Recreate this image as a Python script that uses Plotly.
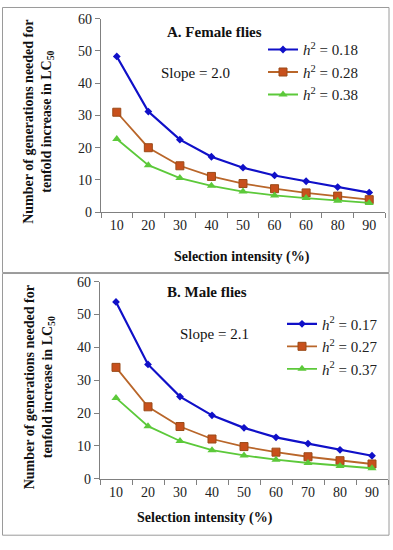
import plotly.graph_objects as go

# ---------------- data ----------------
positions = [1, 2, 3, 4, 5, 6, 7, 8, 9]
female_tick_labels = ["10", "20", "30", "40", "50", "60", "60", "80", "90"]
male_tick_labels = ["10", "20", "30", "40", "50", "60", "70", "80", "90"]

female_h018 = [48.3, 31.2, 22.5, 17.2, 13.8, 11.4, 9.6, 7.8, 6.1]
female_h028 = [31.0, 20.0, 14.4, 11.1, 8.9, 7.3, 6.0, 5.0, 3.9]
female_h038 = [22.7, 14.6, 10.6, 8.2, 6.4, 5.2, 4.4, 3.6, 2.9]

male_h017 = [53.8, 34.8, 25.0, 19.3, 15.5, 12.6, 10.7, 8.8, 7.0]
male_h027 = [33.9, 21.9, 15.9, 12.1, 9.8, 8.1, 6.7, 5.5, 4.5]
male_h037 = [24.6, 16.0, 11.5, 8.7, 7.1, 5.8, 4.8, 3.9, 3.2]

female_names = ["<i>h</i><sup>2</sup> = 0.18", "<i>h</i><sup>2</sup> = 0.28", "<i>h</i><sup>2</sup> = 0.38"]
male_names = ["<i>h</i><sup>2</sup> = 0.17", "<i>h</i><sup>2</sup> = 0.27", "<i>h</i><sup>2</sup> = 0.37"]

# ---------------- style ----------------
W, H = 393, 550
FONT = "Liberation Serif"
BLUE = "#1010C8"
ORANGE_LINE = "#B9662A"
ORANGE_MARK = "#C8501C"
GREEN = "#5CC93A"
AXIS = "#808080"


def px_x(p):
    return p / W


def px_y(p):
    return 1 - p / H


fig = go.Figure()

styles = [
    dict(line=dict(color=BLUE, width=2.2), marker=dict(symbol="diamond", size=6, color=BLUE)),
    dict(line=dict(color=ORANGE_LINE, width=1.8),
         marker=dict(symbol="square", size=8, color=ORANGE_MARK, line=dict(color="#9A4A18", width=1))),
    dict(line=dict(color=GREEN, width=1.8), marker=dict(symbol="triangle-up", size=8, color=GREEN)),
]

for vals, name, st in zip([female_h018, female_h028, female_h038], female_names, styles):
    fig.add_trace(go.Scatter(x=positions, y=vals, name=name, mode="lines+markers",
                             xaxis="x", yaxis="y", legend="legend", **st))
for vals, name, st in zip([male_h017, male_h027, male_h037], male_names, styles):
    fig.add_trace(go.Scatter(x=positions, y=vals, name=name, mode="lines+markers",
                             xaxis="x2", yaxis="y2", legend="legend2", **st))

boundaries = [p - 0.5 for p in positions] + [positions[-1] + 0.5]


def xaxis(domain, labels, anchor):
    return dict(domain=domain, anchor=anchor, range=[0.5, 9.5], tickvals=positions, ticktext=labels,
                ticks="", showline=True, linecolor=AXIS, linewidth=1.2, showgrid=False, zeroline=False,
                tickfont=dict(family=FONT, size=14, color="#222"),
                minor=dict(tickvals=boundaries, ticks="outside", ticklen=5, tickcolor=AXIS, showgrid=False))


def yaxis(domain, anchor):
    return dict(domain=domain, anchor=anchor, range=[0, 60], dtick=10, ticks="outside", ticklen=5,
                tickcolor=AXIS, showline=True, linecolor=AXIS, linewidth=1.2, showgrid=False,
                zeroline=False, tickfont=dict(family=FONT, size=14, color="#222"))


fig.update_layout(
    width=W, height=H, margin=dict(l=0, r=0, t=0, b=0),
    paper_bgcolor="white", plot_bgcolor="white",
    font=dict(family=FONT, size=14, color="#222"),
    xaxis=xaxis([px_x(101), px_x(385)], female_tick_labels, "y"),
    yaxis=yaxis([px_y(211), px_y(12)], "x"),
    xaxis2=xaxis([px_x(100), px_x(388)], male_tick_labels, "y2"),
    yaxis2=yaxis([px_y(485), px_y(282.3)], "x2"),
    legend=dict(x=px_x(263), y=px_y(27), xanchor="left", yanchor="top", bgcolor="rgba(0,0,0,0)",
                font=dict(family=FONT, size=15, color="#222")),
    legend2=dict(x=px_x(282), y=px_y(309), xanchor="left", yanchor="top", bgcolor="rgba(0,0,0,0)",
                 font=dict(family=FONT, size=15, color="#222")),
    showlegend=True,
)

# panel borders
fig.add_shape(type="rect", xref="paper", yref="paper", x0=px_x(2.5), x1=px_x(389), y0=px_y(273), y1=px_y(0.5),
              line=dict(color="#9a9a9a", width=1))
fig.add_shape(type="rect", xref="paper", yref="paper", x0=px_x(2.5), x1=px_x(389), y0=px_y(543), y1=px_y(274),
              line=dict(color="#9a9a9a", width=1))


def ann(text, x, y, size=14, bold=False, angle=0):
    t = f"<b>{text}</b>" if bold else text
    fig.add_annotation(text=t, x=px_x(x), y=px_y(y), xref="paper", yref="paper", showarrow=False,
                       textangle=angle, xanchor="center", yanchor="middle",
                       font=dict(family=FONT, size=size, color="#111"))


ann("A. Female flies", 215, 26, 15, True)
ann("Slope = 2.0", 195, 68, 15)
ann("Selection intensity (%)", 242, 257, 14, True)
ann("Number of generations needed for<br>tenfold increase in LC<sub>50</sub>", 39, 118, 14, True, -90)

ann("B. Male flies", 207, 293, 15, True)
ann("Slope = 2.1", 214, 336, 15)
ann("Selection intensity (%)", 205, 525, 14, True)
ann("Number of generations needed for<br>tenfold increase in LC<sub>50</sub>", 39, 391, 14, True, -90)

fig.write_html("out.html", config={"displayModeBar": False},
               post_script="document.body.style.margin='0';document.body.style.overflow='hidden';")
